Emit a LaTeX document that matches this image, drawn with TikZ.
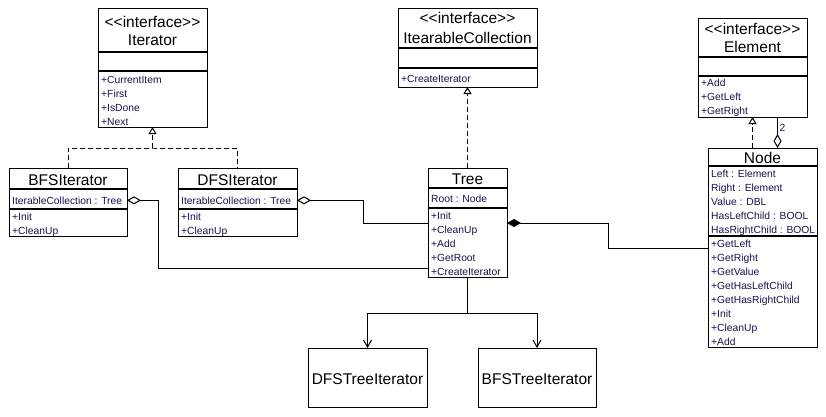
\documentclass[tikz,border=0pt]{standalone}
\usepackage{fontspec}
\setmainfont{Liberation Sans}
\usetikzlibrary{arrows.meta,calc}
\definecolor{memtxt}{HTML}{14144A}
\newcommand\sepline[2]{\draw[sepl] ([yshift=-#2pt]#1.north west) -- ([yshift=-#2pt]#1.north east);}
\newcommand\lt{\textless\kern0pt\textless\kern0pt interface\kern0pt\textgreater\kern0pt\textgreater}
\begin{document}
\begin{tikzpicture}[x=1pt,y=-1pt,
 box/.style={draw,line width=1pt,inner sep=0pt,outer sep=0pt,anchor=north west,fill=white},
 ttl/.style={font=\fontsize{15.5}{17}\selectfont,inner sep=0pt,anchor=base},
 mem/.style={font=\fontsize{10.3}{14}\selectfont,text=memtxt,inner sep=0pt,anchor=base west},
 sepl/.style={line width=2pt},
 conn/.style={line width=1pt},
 dsh/.style={line width=1pt,dash pattern=on 5pt off 3pt},
 real/.style={dsh,-{Triangle[open,length=7pt,width=8pt]}},
 aggr/.style={conn,{Diamond[open,length=14pt,width=8pt]}-},
 comp/.style={conn,{Diamond[length=14pt,width=8pt]}-},
 vee/.style={conn,-{Straight Barb[length=7pt,width=8pt]}}
]
\useasboundingbox[fill=white] (0,0) rectangle (826,416);

% ---------- Iterator ----------
\node[box,minimum width=109pt,minimum height=119pt] (it) at (98,8) {};
\sepline{it}{44}\sepline{it}{63}
\node[ttl] (itS) at (152.5,27) {\lt};
\node[ttl] (itN) at (152.5,45) {Iterator};
\foreach \t [count=\i] in {+CurrentItem,+First,+IsDone,+Next}
  \node[mem] (itm\i) at (101,83+14*\i-14) {\t};

% ---------- IterableCollection ----------
\node[box,minimum width=139pt,minimum height=79pt] (ic) at (398,8) {};
\sepline{ic}{40}\sepline{ic}{60}
\node[ttl] (icS) at (467.5,23) {\lt};
\node[ttl] (icN) at (467.5,43) {ItearableCollection};
\node[mem] (icm1) at (401,82) {+CreateIterator};

% ---------- Element ----------
\node[box,minimum width=109pt,minimum height=99pt] (el) at (698,18) {};
\sepline{el}{39}\sepline{el}{58}
\node[ttl] (elS) at (752.5,34) {\lt};
\node[ttl] (elN) at (752.5,52) {Element};
\foreach \t [count=\i] in {+Add,+GetLeft,+GetRight}
  \node[mem] (elm\i) at (701,86+14*\i-14) {\t};

% ---------- BFSIterator ----------
\node[box,minimum width=118pt,minimum height=68pt] (bfs) at (9,168) {};
\sepline{bfs}{21}\sepline{bfs}{41}
\node[ttl] (bfsN) at (68,185) {BFSIterator};
\node[mem] (bfsa) at (12,204) {IterableCollection : Tree};
\foreach \t [count=\i] in {+Init,+CleanUp}
  \node[mem] (bfsm\i) at (12,220+14*\i-14) {\t};

% ---------- DFSIterator ----------
\node[box,minimum width=119pt,minimum height=68pt] (dfs) at (178,168) {};
\sepline{dfs}{21}\sepline{dfs}{41}
\node[ttl] (dfsN) at (237.5,185) {DFSIterator};
\node[mem] (dfsa) at (181,204) {IterableCollection : Tree};
\foreach \t [count=\i] in {+Init,+CleanUp}
  \node[mem] (dfsm\i) at (181,220+14*\i-14) {\t};

% ---------- Tree ----------
\node[box,minimum width=79pt,minimum height=109pt] (tree) at (428,168) {};
\sepline{tree}{20}\sepline{tree}{40}
\node[ttl] (treeN) at (467.5,184) {Tree};
\node[mem] (treea) at (431,202) {Root : Node};
\foreach \t [count=\i] in {+Init,+CleanUp,+Add,+GetRoot,+CreateIterator}
  \node[mem] (treem\i) at (431,219+14*\i-14) {\t};

% ---------- Node ----------
\node[box,minimum width=109pt,minimum height=199pt] (nd) at (708,148) {};
\sepline{nd}{18}\sepline{nd}{88}
\node[ttl] (ndN) at (762.5,163) {Node};
\foreach \t [count=\i] in {Left : Element,Right : Element,Value : DBL,HasLeftChild : BOOL,HasRightChild : BOOL}
  \node[mem] (nda\i) at (711,177+14*\i-14) {\t};
\foreach \t [count=\i] in {+GetLeft,+GetRight,+GetValue,+GetHasLeftChild,+GetHasRightChild,+Init,+CleanUp,+Add}
  \node[mem] (ndm\i) at (711,247+14*\i-14) {\t};

% ---------- Tree iterators ----------
\node[box,minimum width=119pt,minimum height=59pt] (dfst) at (308,348) {};
\node[ttl] (dfstN) at (367.5,384) {DFSTreeIterator};
\node[box,minimum width=118pt,minimum height=59pt] (bfst) at (478,348) {};
\node[ttl] (bfstN) at (537,384) {BFSTreeIterator};

% ---------- connectors ----------
\coordinate (itj) at (152.5,148);
\draw[dsh] (bfs.north) |- (itj) -| (dfs.north);
\draw[real] (itj) -- (it.south);

\draw[real] (tree.north) -- (ic.south);

\draw[real] (nd.north -| el.south) -- (el.south);
\draw[aggr] ([xshift=15pt]nd.north) -- ([xshift=15pt]nd.north |- el.south)
  node[pos=0.65,right,inner sep=1.5pt,font=\fontsize{10.3}{12}\selectfont,text=memtxt] (two) {2};

\draw[aggr] (bfs.east |- bfsa) -- ++(31,0) |- ([yshift=9pt]tree.south west);
\draw[aggr] (dfs.east |- dfsa) -- ++(66,0) |- ([yshift=-55pt]tree.north west);
\draw[comp] ([yshift=-55pt]tree.north east) -- ++(101,0) |- ([yshift=-100pt]nd.north west);

\coordinate (split) at (467.5,313);
\draw[conn] (tree.south) -- (split);
\draw[vee] (split) -| (dfst.north);
\draw[vee] (split) -| (bfst.north);
\end{tikzpicture}
\end{document}
